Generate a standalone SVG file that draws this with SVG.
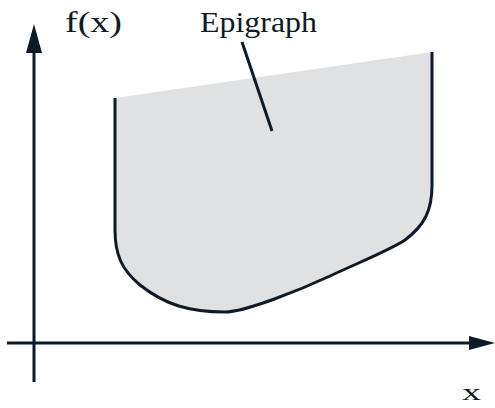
<svg xmlns="http://www.w3.org/2000/svg" width="495" height="408" viewBox="0 0 495 408">
<defs>
<style>
.ln{fill:none;stroke:#0d1a28;stroke-width:3;}
.ax{fill:none;stroke:#0d1a28;stroke-width:3;}
.lbl{fill:#0d1a28;}
</style>
</defs>
<rect width="495" height="408" fill="#ffffff"/>
<g id="epigraph">
<path d="M115,98 L432,52 L432,185 C432,210 425,225 405,240 C390,250 360,262 330,276 C300,290 245,312 225,312 C190,312 165,305 140,285 C122,270 115,255 115,230 Z" fill="#e0e1e3"/>
<path class="ln" d="M115,98 L115,230 C115,255 122,270 140,285 C165,305 190,312 225,312 C245,312 300,290 330,276 C360,262 390,250 405,240 C425,225 432,210 432,185 L432,52"/>
</g>
<g id="connectors">
<line class="ax" x1="34" y1="382" x2="34" y2="52"/>
<path d="M34,24 L42,53 L26,53 Z" fill="#0d1a28"/>
<line class="ax" x1="7" y1="343" x2="470" y2="343"/>
<path d="M495,343 L469,336 L469,350 Z" fill="#0d1a28"/>
<line class="ln" x1="242" y1="42" x2="272" y2="131"/>
</g>
<g id="labels" font-family="'Liberation Serif', 'Times New Roman', serif">
<text class="lbl" x="65" y="32" font-size="30" textLength="57" lengthAdjust="spacingAndGlyphs">f(x)</text>
<text class="lbl" x="200" y="32" font-size="29" textLength="117" lengthAdjust="spacingAndGlyphs">Epigraph</text>
<text class="lbl" x="462" y="400" font-size="24" textLength="19" lengthAdjust="spacingAndGlyphs">x</text>
</g>
</svg>
